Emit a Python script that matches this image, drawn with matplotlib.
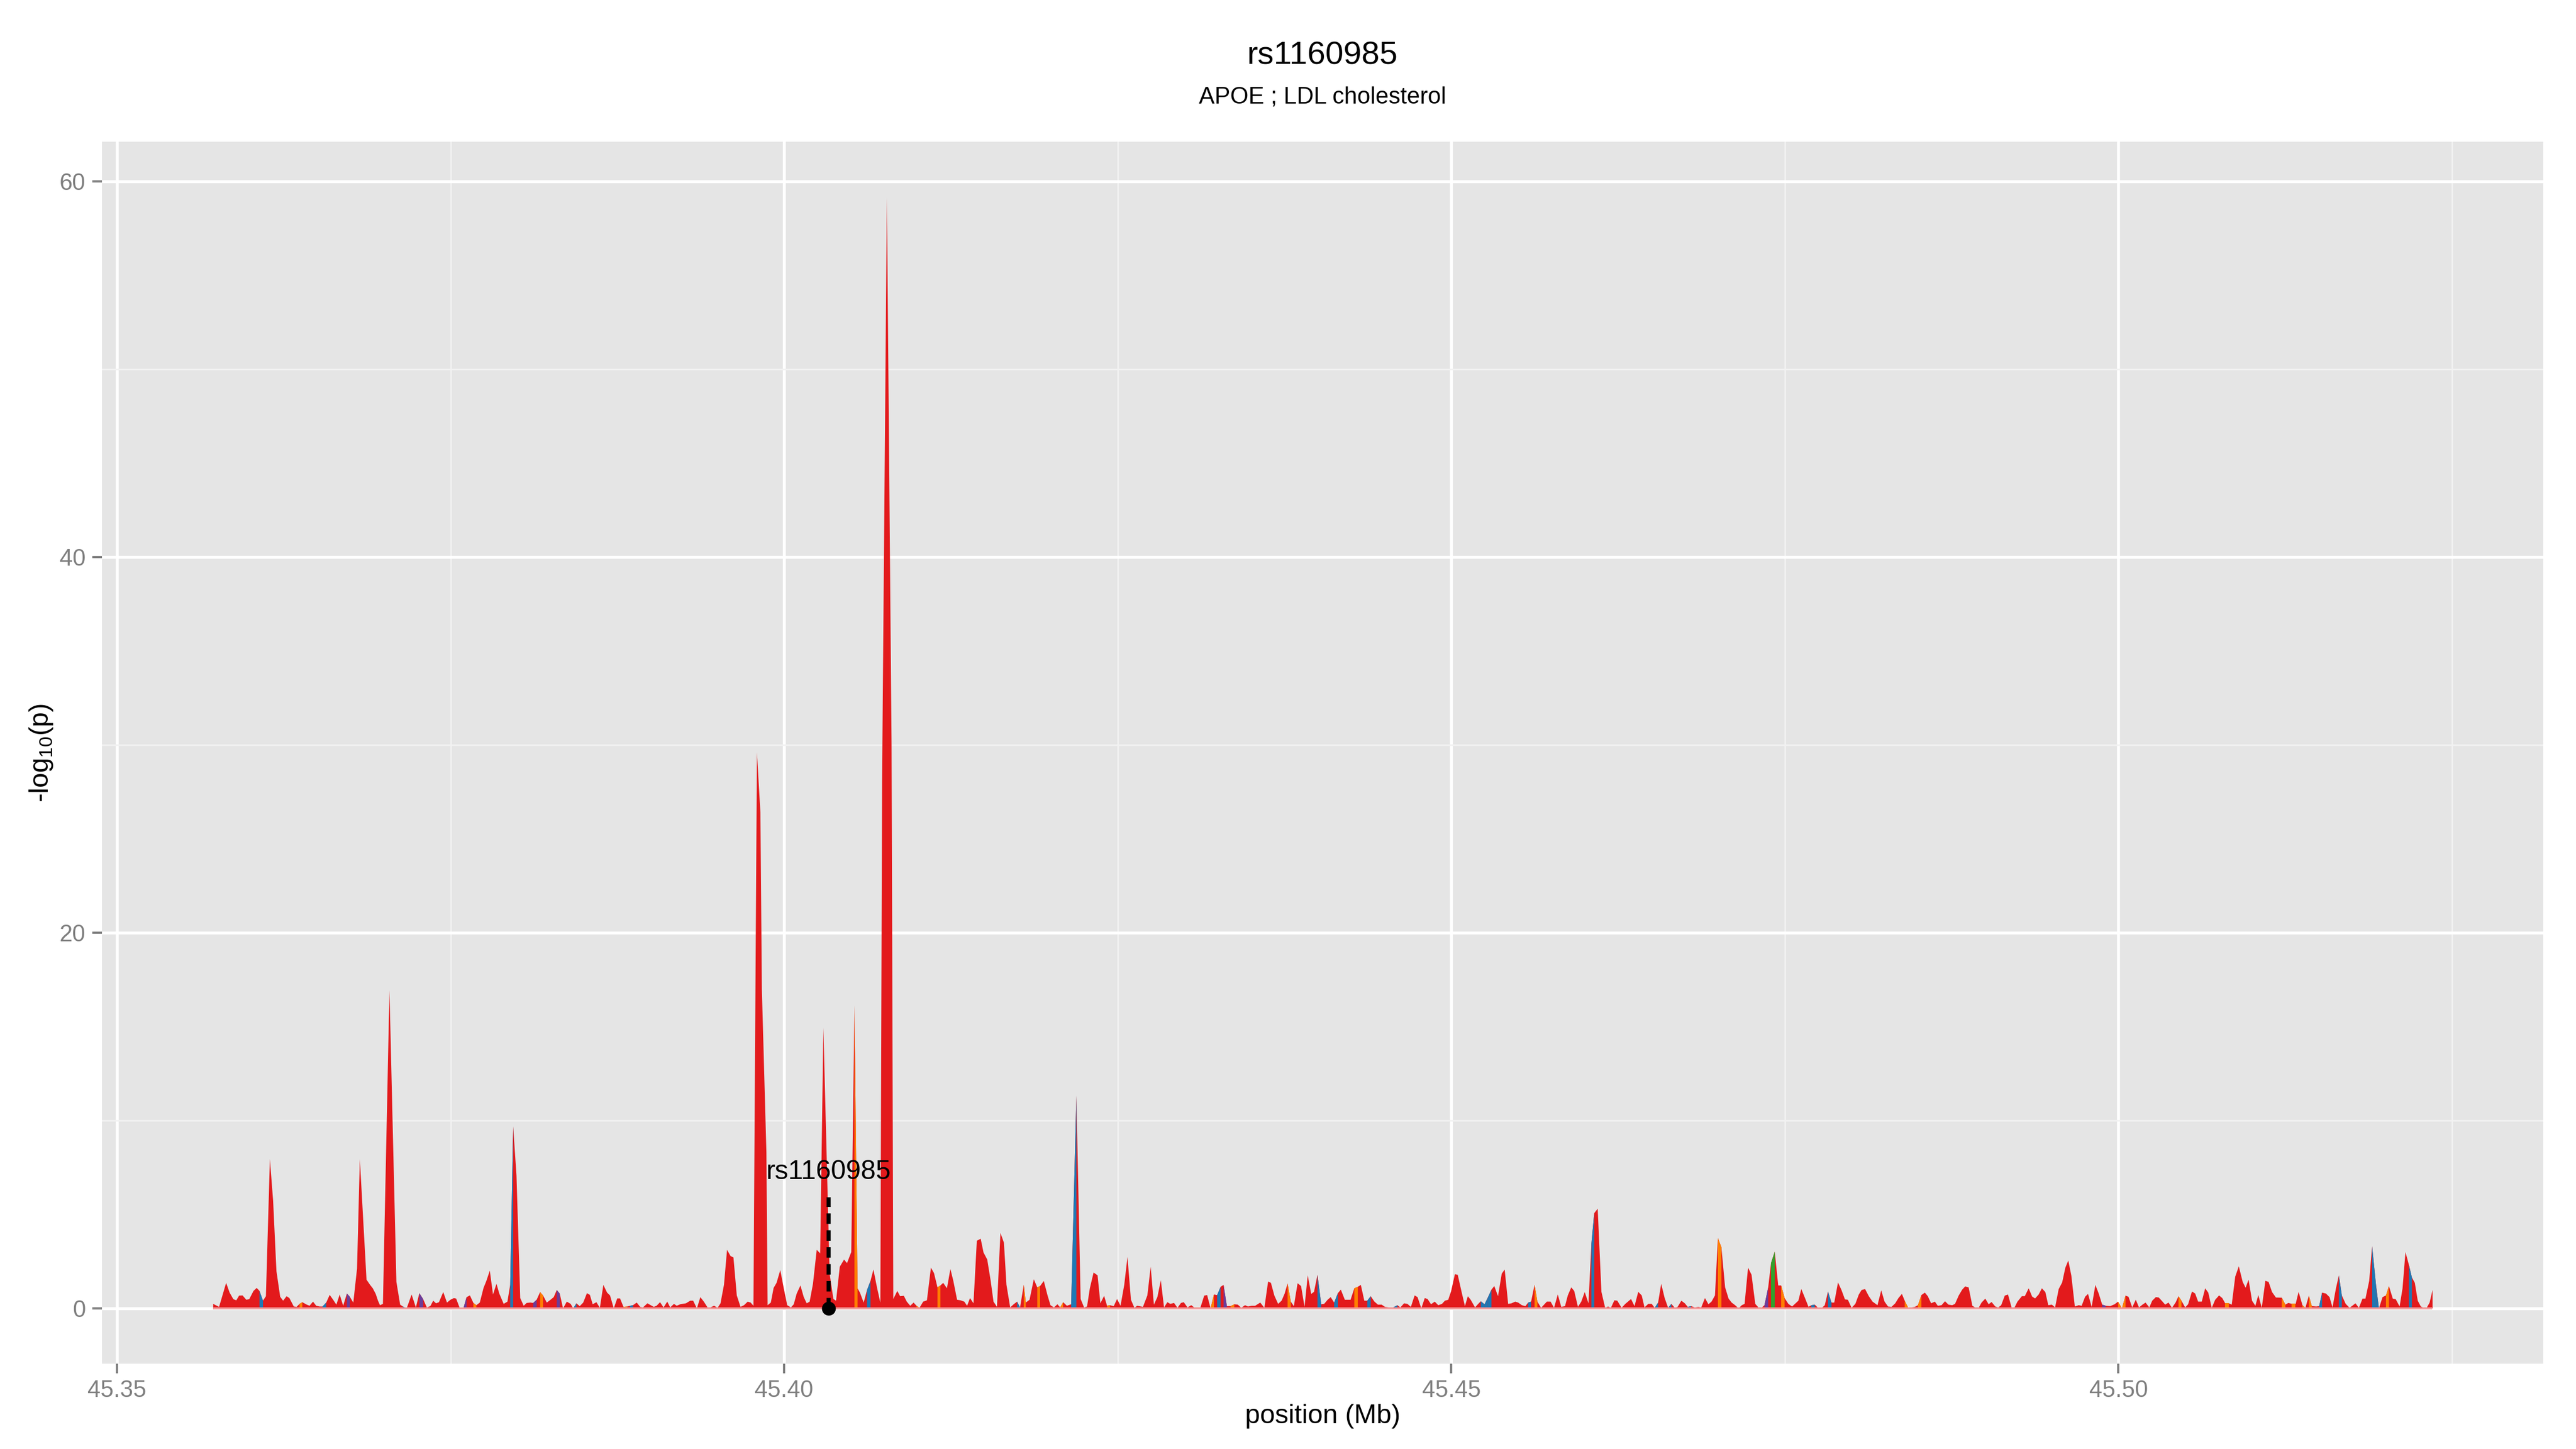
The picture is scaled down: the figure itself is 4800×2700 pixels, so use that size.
import numpy as np
import matplotlib
matplotlib.use("Agg")
import matplotlib.pyplot as plt
from matplotlib.ticker import FixedLocator, FuncFormatter

plt.rcParams['font.family'] = ['Liberation Sans', 'DejaVu Sans']
plt.rcParams['mathtext.fontset'] = 'custom'
plt.rcParams['mathtext.rm'] = 'Liberation Sans'
plt.rcParams['mathtext.it'] = 'Liberation Sans:italic'
plt.rcParams['mathtext.default'] = 'regular'

# ---------------- data ----------------
title = "rs1160985"
subtitle = "APOE ; LDL cholesterol"
x_label = "position (Mb)"
y_label = r"-log$_{10}$(p)"
lead_snp = "rs1160985"
lead_pos = 45.40332
lead_logp = 0.0
lead_label_y = 6.88
lead_line_top = 5.9

x_ticks = [45.35, 45.40, 45.45, 45.50]
x_minor = [45.375, 45.425, 45.475, 45.525]
y_ticks = [0, 20, 40, 60]
y_minor = [10, 30, 50]

position_mb = [
    45.35719, 45.35763, 45.35816, 45.35842, 45.35870, 45.35892, 45.35913, 45.35939, 45.35967, 45.35989,
    45.36021, 45.36045, 45.36066, 45.36092, 45.36114, 45.36144, 45.36168, 45.36193, 45.36221, 45.36243,
    45.36269, 45.36290, 45.36323, 45.36344, 45.36366, 45.36387, 45.36420, 45.36441, 45.36467, 45.36491,
    45.36517, 45.36538, 45.36566, 45.36592, 45.36618, 45.36642, 45.36667, 45.36693, 45.36721, 45.36743,
    45.36769, 45.36797, 45.36818, 45.36868, 45.36894, 45.36915, 45.36937, 45.36954, 45.36969, 45.36991,
    45.37040, 45.37092, 45.37120, 45.37141, 45.37169, 45.37206, 45.37238, 45.37264, 45.37292, 45.37320,
    45.37346, 45.37368, 45.37389, 45.37411, 45.37443, 45.37471, 45.37497, 45.37523, 45.37540, 45.37566,
    45.37594, 45.37618, 45.37643, 45.37669, 45.37691, 45.37717, 45.37745, 45.37766, 45.37792, 45.37816,
    45.37842, 45.37863, 45.37896, 45.37924, 45.37945, 45.37967, 45.37992, 45.38020, 45.38046, 45.38068,
    45.38096, 45.38117, 45.38143, 45.38169, 45.38191, 45.38219, 45.38247, 45.38271, 45.38294, 45.38316,
    45.38341, 45.38369, 45.38398, 45.38417, 45.38441, 45.38466, 45.38492, 45.38520, 45.38542, 45.38563,
    45.38591, 45.38617, 45.38643, 45.38671, 45.38693, 45.38721, 45.38747, 45.38768, 45.38794, 45.38822,
    45.38843, 45.38865, 45.38893, 45.38919, 45.38940, 45.38973,
    45.39021, 45.39042, 45.39068, 45.39094, 45.39122, 45.39144, 45.39172, 45.39193, 45.39219, 45.39262,
    45.39294, 45.39316, 45.39344, 45.39370, 45.39396, 45.39424, 45.39445, 45.39473, 45.39499, 45.39521,
    45.39547, 45.39570, 45.39596, 45.39618, 45.39643, 45.39671, 45.39697, 45.39725, 45.39747, 45.39768,
    45.39794, 45.39820, 45.39831, 45.39865, 45.39874, 45.39898, 45.39919, 45.39941, 45.39969, 45.39995,
    45.40021, 45.40049, 45.40070, 45.40092, 45.40120, 45.40145, 45.40167, 45.40189, 45.40214, 45.40242,
    45.40268, 45.40292, 45.40339, 45.40367, 45.40387, 45.40415, 45.40447, 45.40469, 45.40501, 45.40525,
    45.40548, 45.40566, 45.40594, 45.40619, 45.40645, 45.40667, 45.40695, 45.40719, 45.40732, 45.40768,
    45.40803, 45.40816, 45.40846, 45.40867, 45.40895, 45.40917, 45.40943, 45.40968, 45.40990, 45.41012,
    45.41040, 45.41068, 45.41098, 45.41121, 45.41147, 45.41169, 45.41190, 45.41218, 45.41244, 45.41266,
    45.41294, 45.41320, 45.41348, 45.41369, 45.41391, 45.41417, 45.41442, 45.41471, 45.41492, 45.41520,
    45.41546, 45.41567, 45.41593, 45.41619, 45.41645, 45.41664, 45.41692, 45.41718, 45.41744, 45.41766,
    45.41794, 45.41809, 45.41837, 45.41869, 45.41895, 45.41916, 45.41944, 45.41972, 45.41994, 45.42020,
    45.42046, 45.42067, 45.42089, 45.42117, 45.42149, 45.42188, 45.42220, 45.42246, 45.42268, 45.42289,
    45.42317,
    45.42347, 45.42368, 45.42396, 45.42418, 45.42440, 45.42468, 45.42493, 45.42519, 45.42547, 45.42571,
    45.42597, 45.42623, 45.42644, 45.42687, 45.42720, 45.42745, 45.42769, 45.42795, 45.42821, 45.42845,
    45.42870, 45.42892, 45.42920, 45.42946, 45.42972, 45.42993, 45.43021, 45.43049, 45.43071, 45.43118,
    45.43146, 45.43168, 45.43194, 45.43219, 45.43243, 45.43269, 45.43291, 45.43316, 45.43344, 45.43372,
    45.43398, 45.43424, 45.43452, 45.43474, 45.43502, 45.43528, 45.43566, 45.43597, 45.43625, 45.43646,
    45.43672, 45.43700, 45.43726, 45.43749, 45.43771, 45.43795, 45.43818, 45.43846, 45.43872, 45.43898,
    45.43922, 45.43948, 45.43969, 45.43995, 45.44023, 45.44045, 45.44071, 45.44094, 45.44120, 45.44148,
    45.44170, 45.44200, 45.44243, 45.44271, 45.44297, 45.44320, 45.44346, 45.44368, 45.44394, 45.44422,
    45.44448, 45.44476, 45.44501, 45.44536, 45.44562, 45.44594, 45.44616, 45.44644, 45.44669, 45.44695,
    45.44723, 45.44745, 45.44773, 45.44799, 45.44820, 45.44846, 45.44874, 45.44900, 45.44928, 45.44950,
    45.44975, 45.44997, 45.45025, 45.45046, 45.45075, 45.45100, 45.45122, 45.45143, 45.45176, 45.45197,
    45.45219, 45.45247, 45.45273, 45.45299, 45.45320, 45.45348, 45.45376, 45.45398, 45.45424, 45.45449,
    45.45477, 45.45499, 45.45527, 45.45553, 45.45574, 45.45596, 45.45622, 45.45643, 45.45671,
    45.45714, 45.45742, 45.45768, 45.45796, 45.45822, 45.45850, 45.45871, 45.45897, 45.45919, 45.45947,
    45.45972, 45.45998, 45.46026, 45.46048, 45.46069, 45.46095, 45.46123, 45.46151, 45.46173, 45.46194,
    45.46220, 45.46242, 45.46274, 45.46302, 45.46345, 45.46371, 45.46399, 45.46425, 45.46446, 45.46474,
    45.46500, 45.46522, 45.46548, 45.46571, 45.46597, 45.46623, 45.46647, 45.46673, 45.46694, 45.46722,
    45.46748, 45.46770, 45.46795, 45.46823, 45.46849, 45.46871, 45.46899, 45.46925, 45.46948, 45.46974,
    45.46996, 45.47022, 45.47050, 45.47076, 45.47099, 45.47125, 45.47151, 45.47175, 45.47196, 45.47222,
    45.47248, 45.47276, 45.47302, 45.47323, 45.47345, 45.47373, 45.47394, 45.47422, 45.47448, 45.47470,
    45.47496, 45.47524, 45.47552, 45.47578, 45.47599, 45.47621, 45.47646, 45.47675, 45.47696, 45.47722,
    45.47746, 45.47771, 45.47797, 45.47821, 45.47847, 45.47868, 45.47896, 45.47922, 45.47948, 45.47970,
    45.47998, 45.48026, 45.48052, 45.48073, 45.48099, 45.48127, 45.48155, 45.48192, 45.48220, 45.48245,
    45.48271, 45.48297, 45.48325, 45.48349, 45.48375, 45.48396, 45.48422, 45.48444, 45.48472, 45.48495,
    45.48521, 45.48547, 45.48569, 45.48594, 45.48622, 45.48644, 45.48672, 45.48698, 45.48724, 45.48752,
    45.48773, 45.48801, 45.48827, 45.48849, 45.48875, 45.48903, 45.48928, 45.48950, 45.48972, 45.49000,
    45.49025, 45.49047, 45.49075, 45.49097, 45.49119, 45.49146, 45.49170, 45.49197, 45.49219, 45.49241,
    45.49274, 45.49296, 45.49325, 45.49351, 45.49373, 45.49400, 45.49424, 45.49450, 45.49472, 45.49499,
    45.49523, 45.49550, 45.49576, 45.49600, 45.49622, 45.49645, 45.49671, 45.49700, 45.49722, 45.49748,
    45.49770, 45.49797, 45.49825, 45.49850, 45.49876, 45.49903, 45.49936, 45.49969, 45.49995, 45.50024,
    45.50051, 45.50073, 45.50101, 45.50128, 45.50152, 45.50178, 45.50201, 45.50229, 45.50251, 45.50278,
    45.50300, 45.50322, 45.50348, 45.50373, 45.50399, 45.50426, 45.50448, 45.50470, 45.50498, 45.50520,
    45.50549, 45.50573, 45.50595, 45.50622, 45.50648, 45.50671, 45.50697, 45.50723, 45.50752, 45.50776,
    45.50798, 45.50825, 45.50847, 45.50873, 45.50900, 45.50929, 45.50951, 45.50973, 45.50999, 45.51024,
    45.51046, 45.51072, 45.51099, 45.51123, 45.51149, 45.51178, 45.51222, 45.51249, 45.51271, 45.51299,
    45.51326, 45.51348, 45.51377, 45.51399, 45.51425, 45.51447, 45.51480, 45.51502, 45.51524, 45.51553,
    45.51580, 45.51602, 45.51628, 45.51650, 45.51672, 45.51701, 45.51730, 45.51756, 45.51774, 45.51800,
    45.51827, 45.51849, 45.51877, 45.51899, 45.51928, 45.51950, 45.51977, 45.52003, 45.52025, 45.52054,
    45.52076, 45.52105, 45.52127, 45.52149, 45.52175, 45.52197, 45.52219, 45.52241, 45.52264, 45.52286,
    45.52308, 45.52330, 45.52352,
]

neg_log10_p = [
    0.24, 0.08, 1.36, 0.84, 0.49, 0.43, 0.68, 0.69, 0.46, 0.49,
    0.93, 1.09, 0.93, 0.41, 0.65, 7.95, 5.73, 1.98, 0.62, 0.41,
    0.65, 0.55, 0.10, 0.08, 0.24, 0.33, 0.20, 0.14, 0.36, 0.14,
    0.10, 0.10, 0.31, 0.72, 0.46, 0.20, 0.74, 0.14, 0.79, 0.62,
    0.31, 2.12, 7.95, 1.53, 1.26, 1.07, 0.77, 0.41, 0.17, 0.24,
    16.94, 1.41, 0.20, 0.10, 0.00, 0.74, 0.05, 0.81, 0.50, 0.05,
    0.12, 0.41, 0.27, 0.33, 0.87, 0.31, 0.46, 0.55, 0.52, 0.03,
    0.00, 0.60, 0.69, 0.29, 0.17, 0.31, 1.09, 1.46, 2.01, 0.74,
    1.31, 0.79, 0.24, 0.36, 1.26, 9.69, 7.07, 0.55, 0.14, 0.29,
    0.31, 0.29, 0.46, 0.87, 0.69, 0.31, 0.46, 0.60, 0.98, 0.79,
    0.00, 0.36, 0.24, 0.00, 0.27, 0.12, 0.31, 0.81, 0.72, 0.22,
    0.33, 0.03, 1.25, 0.84, 0.69, 0.00, 0.53, 0.53, 0.08, 0.10,
    0.14, 0.17, 0.31, 0.08, 0.05, 0.27,
    0.08, 0.14, 0.33, 0.05, 0.36, 0.05, 0.24, 0.14, 0.22, 0.27,
    0.41, 0.41, 0.00, 0.60, 0.36, 0.05, 0.05, 0.14, 0.03, 0.27,
    1.26, 3.12, 2.79, 2.71, 0.69, 0.08, 0.17, 0.36, 0.31, 0.14,
    29.6, 26.4, 17.0, 8.3, 0.17, 0.31, 1.09, 1.36, 2.04, 1.07,
    0.17, 0.05, 0.22, 0.79, 1.22, 0.60, 0.27, 0.36, 1.31, 3.12,
    2.93, 14.94, 1.84, 0.50, 0.41, 2.22, 2.60, 2.41, 3.00, 16.13,
    1.07, 0.84, 0.31, 0.98, 1.46, 2.07, 1.07, 0.31, 28.0, 59.15,
    30.0, 0.50, 0.93, 0.65, 0.67, 0.36, 0.14, 0.31, 0.14, 0.03,
    0.36, 0.43, 2.17, 1.88, 1.12, 1.22, 1.36, 1.07, 2.10, 1.46,
    0.46, 0.43, 0.36, 0.14, 0.55, 0.27, 3.60, 3.71, 2.98, 2.60,
    1.46, 0.36, 0.08, 4.02, 3.50, 1.26, 0.05, 0.22, 0.36, 0.05,
    1.26, 0.31, 0.46, 1.55, 1.12, 1.19, 1.46, 0.69, 0.17, 0.05,
    0.22, 0.05, 0.33, 0.14, 0.22, 11.32, 0.50, 0.05, 0.10, 1.07,
    1.91,
    1.76, 0.27, 0.67, 0.14, 0.17, 0.12, 0.50, 0.14, 1.26, 2.74,
    0.46, 0.03, 0.14, 0.08, 0.69, 2.22, 0.20, 0.60, 1.50, 0.05,
    0.33, 0.24, 0.29, 0.03, 0.29, 0.33, 0.05, 0.17, 0.05, 0.05,
    0.68, 0.71, 0.00, 0.74, 0.71, 1.15, 1.25, 0.12, 0.12, 0.22,
    0.20, 0.03, 0.17, 0.10, 0.14, 0.14, 0.31, 0.03, 1.43, 1.36,
    0.68, 0.24, 0.41, 0.79, 1.33, 0.36, 0.12, 1.34, 1.19, 0.08,
    1.76, 0.77, 0.88, 1.79, 0.22, 0.24, 0.46, 0.60, 0.31, 0.81,
    1.00, 0.46, 0.46, 1.07, 1.15, 1.25, 0.41, 0.41, 0.65, 0.36,
    0.20, 0.20, 0.08, 0.05, 0.05, 0.17, 0.05, 0.27, 0.24, 0.08,
    0.69, 0.60, 0.00, 0.55, 0.50, 0.22, 0.36, 0.17, 0.24, 0.41,
    0.46, 0.93, 1.82, 1.79, 0.88, 0.12, 0.65, 0.46, 0.05, 0.22,
    0.38, 0.22, 0.60, 1.00, 1.19, 0.65, 1.85, 2.07, 0.24, 0.27,
    0.36, 0.31, 0.17, 0.12, 0.31, 0.36, 1.26, 0.36, 0.03,
    0.36, 0.36, 0.03, 0.74, 0.08, 0.12, 0.69, 1.12, 0.93, 0.08,
    0.36, 0.87, 0.27, 3.45, 5.07, 5.31, 0.88, 0.03, 0.10, 0.03,
    0.43, 0.41, 0.03, 0.24, 0.50, 0.12, 0.88, 0.69, 0.05, 0.24,
    0.24, 0.03, 0.31, 1.31, 0.55, 0.03, 0.24, 0.03, 0.08, 0.41,
    0.27, 0.08, 0.12, 0.05, 0.08, 0.05, 0.55, 0.22, 0.36, 0.69,
    3.74, 3.26, 1.12, 0.52, 0.31, 0.17, 0.00, 0.17, 0.24, 2.17,
    1.79, 0.24, 0.03, 0.03, 0.17, 1.12, 2.41, 3.02, 1.22, 1.22,
    0.55, 0.24, 0.10, 0.27, 0.41, 1.03, 0.60, 0.08, 0.17, 0.20,
    0.03, 0.00, 0.17, 0.90, 0.31, 0.31, 1.38, 0.98, 0.48, 0.46,
    0.03, 0.24, 0.74, 0.98, 1.03, 0.65, 0.36, 0.17, 0.96, 0.36,
    0.10, 0.08, 0.27, 0.55, 0.77, 0.41, 0.03, 0.05, 0.08, 0.17,
    0.71, 0.84, 0.65, 0.27, 0.36, 0.14, 0.17, 0.38, 0.20, 0.17,
    0.24, 0.69, 1.00, 1.17, 1.12, 0.14, 0.03, 0.03, 0.31, 0.52,
    0.22, 0.34, 0.10, 0.05, 0.17, 0.68, 0.74, 0.05, 0.05, 0.36,
    0.65, 0.65, 1.07, 0.63, 0.53, 0.74, 1.07, 0.87, 0.17, 0.20,
    0.05, 1.03, 1.38, 2.17, 2.55, 1.74, 0.10, 0.17, 0.14, 0.62,
    0.77, 0.08, 1.25, 0.79, 0.20, 0.14, 0.12, 0.22, 0.36, 0.00,
    0.68, 0.62, 0.05, 0.46, 0.05, 0.20, 0.31, 0.05, 0.41, 0.60,
    0.58, 0.41, 0.20, 0.31, 0.03, 0.31, 0.65, 0.41, 0.05, 0.22,
    0.90, 0.79, 0.36, 0.36, 1.07, 0.84, 0.03, 0.46, 0.69, 0.55,
    0.27, 0.27, 0.20, 1.69, 2.24, 1.41, 1.10, 1.53, 0.41, 0.14,
    0.71, 0.03, 1.47, 1.41, 0.87, 0.58, 0.57, 0.20, 0.29, 0.24,
    0.24, 0.88, 0.17, 0.03, 0.68, 0.12, 0.10, 0.12, 0.84, 0.79,
    0.60, 0.05, 1.07, 1.76, 0.69, 0.24, 0.03, 0.17, 0.27, 0.03,
    0.52, 0.52, 1.46, 3.31, 1.26, 0.00, 0.60, 0.69, 1.19, 0.52,
    0.49, 0.10, 1.07, 3.00, 2.31, 1.65, 1.36, 0.41, 0.10, 0.03,
    0.03, 0.31, 0.98,
]

# positions where the LD colour of the following segment is not red
ld_change_pos = [
    45.36066, 45.36366, 45.36538, 45.36721, 45.37141, 45.37264, 45.37594, 45.37669, 45.37945, 45.38117,
    45.38169, 45.38294, 45.38417, 45.38794, 45.38843,
    45.40525, 45.40619, 45.40990, 45.41147, 45.41744, 45.41794, 45.41895, 45.42067, 45.42149,
    45.42418, 45.43071, 45.43194, 45.43243, 45.43291, 45.43344, 45.43771, 45.43995, 45.44120, 45.44271,
    45.44368, 45.44562, 45.45219, 45.45247, 45.45273, 45.45574, 45.45622,
    45.46048, 45.46522, 45.46623, 45.46770, 45.46996, 45.47302, 45.47345, 45.47394, 45.47470, 45.47696,
    45.47821, 45.48396, 45.48422, 45.48495, 45.48928,
    45.49876, 45.49995, 45.50024, 45.50448, 45.50798, 45.51222, 45.51299, 45.51377, 45.51425, 45.51502,
    45.51650, 45.51899, 45.51928, 45.52003, 45.52175, 45.52286,
]
ld_change_code = [
    'b', 'o', 'b', 'p', 'b', 'p', 'p', 'o', 'b', 'p',
    'o', 'p', 'b', 'o', 'b',
    'o', 'b', 'o', 'o', 'b', 'o', 'o', 'o', 'b',
    'o', 'o', 'o', 'b', 'p', 'o', 'o', 'b', 'b', 'o',
    'b', 'b', 'b', 'b', 'b', 'b', 'o',
    'b', 'b', 'b', 'b', 'o', 'g', 'p', 'g', 'o', 'b',
    'b', 'o', 'o', 'o', 'o',
    'p', 'o', 'o', 'o', 'o', 'o', 'o', 'o', 'o', 'b',
    'b', 'b', 'b', 'o', 'b', 'o',
]
palette = {'r': '#E31A1C', 'b': '#1F78B4', 'o': '#FF7F00', 'p': '#6A3D9A', 'g': '#33A02C'}

# ---------------- build ----------------
x = np.array(position_mb, dtype=float)
y = np.array(neg_log10_p, dtype=float)
n = min(len(x), len(y))
x, y = x[:n], y[:n]
order = np.argsort(x)
x, y = x[order], y[order]
cat = np.array(['r'] * n, dtype='<U1')
for p, c in zip(ld_change_pos, ld_change_code):
    cat[int(np.argmin(np.abs(x - p)))] = c

W, H = 4800, 2700
fig = plt.figure(figsize=(16, 9), dpi=300)
pl, pr, pt, pb = 190, 4739, 264, 2541
ax = fig.add_axes([pl / W, 1 - pb / H, (pr - pl) / W, (pb - pt) / H])
ax.set_facecolor('#E5E5E5')
for s in ax.spines.values():
    s.set_visible(False)

ax.fill_between(x, 0, y, color=palette['r'], lw=0, zorder=2)
for i in range(n - 1):
    if cat[i] != 'r':
        ax.fill_between(x[i:i + 2], 0, y[i:i + 2], color=palette[cat[i]], lw=0, zorder=3)
ax.plot([x.min(), x.max()], [0, 0], color='#F29A9B', lw=0.9, zorder=4, solid_capstyle='butt')

# annotation
ax.plot([lead_pos, lead_pos], [lead_logp, lead_line_top], color='black', lw=1.8,
        ls=(0, (2.6, 1.6)), zorder=5)
ax.plot([lead_pos], [lead_logp], 'o', color='black', ms=5.2, zorder=6)
ax.text(lead_pos, lead_label_y, lead_snp, ha='center', va='baseline', fontsize=12, zorder=7)

xr = x.max() - x.min()
ax.set_xlim(x.min() - 0.05 * xr, x.max() + 0.05 * xr)
ymax = y.max()
ax.set_ylim(-0.05 * ymax, 1.05 * ymax)

ax.xaxis.set_major_locator(FixedLocator(x_ticks))
ax.xaxis.set_minor_locator(FixedLocator(x_minor))
ax.yaxis.set_major_locator(FixedLocator(y_ticks))
ax.yaxis.set_minor_locator(FixedLocator(y_minor))
ax.xaxis.set_major_formatter(FuncFormatter(lambda v, p: f"{v:.2f}"))
ax.yaxis.set_major_formatter(FuncFormatter(lambda v, p: f"{v:.0f}"))
ax.set_axisbelow(True)
ax.grid(which='major', color='white', lw=1.3)
ax.grid(which='minor', color='#F2F2F2', lw=0.65)
ax.tick_params(which='minor', length=0)
ax.tick_params(which='major', length=4.3, width=1.0, color='#7F7F7F', labelcolor='#7F7F7F',
               labelsize=10.5, pad=3)

cx = (pl + pr) / 2 / W
fig.text(cx, 1 - 119 / H, title, ha='center', va='baseline', fontsize=14.5)
fig.text(cx, 1 - 193 / H, subtitle, ha='center', va='baseline', fontsize=10.5)
fig.text(cx, 1 - 2652 / H, x_label, ha='center', va='baseline', fontsize=12)
fig.text(77 / W, 1 - (pt + pb) / 2 / H, y_label, ha='center', va='center', rotation=90, fontsize=12)

fig.savefig('out.png', dpi=300, facecolor='white')
